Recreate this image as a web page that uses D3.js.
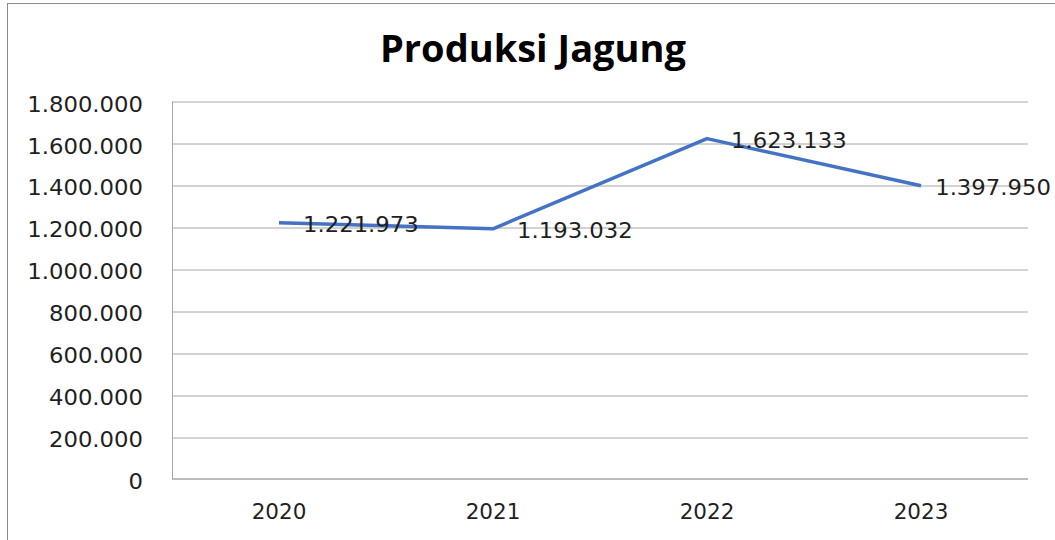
<!DOCTYPE html>
<html>
<head>
<meta charset="utf-8">
<script src="https://cdn.jsdelivr.net/npm/d3@7"></script>
<style>
  body { margin: 0; background: #fff; }
  svg { display: block; }
  .tick-label { font-family: "DejaVu Sans", Verdana, sans-serif; font-size: 20.5px; fill: #1f1f1f; }
  .year-label { font-family: "DejaVu Sans", sans-serif; font-size: 21.5px; fill: #1f1f1f; }
  .data-label { font-family: "DejaVu Sans", Verdana, sans-serif; font-size: 20.5px; fill: #1f1f1f; }
</style>
</head>
<body>
<div id="chart"></div>
<script>
// data
var years = ["2020", "2021", "2022", "2023"]
var produksi = [1221973, 1193032, 1623133, 1397950]
var yTicks = [0, 200000, 400000, 600000, 800000, 1000000, 1200000, 1400000, 1600000, 1800000]
var title = "Produksi Jagung"

const W = 1055, H = 540
const margin = {top: 101.5, right: 27, bottom: 61, left: 172}
const width = W - margin.left - margin.right,
      height = H - margin.top - margin.bottom
const stretch = 1.11

// number format like 1.800.000
var fmt = d3.formatLocale({decimal: ",", thousands: ".", grouping: [3], currency: ["", ""]}).format(",d")

var svg = d3.select("#chart")
  .append("svg")
  .attr("width", W)
  .attr("height", H)

// chart border
svg.append("rect")
  .attr("x", 7.5).attr("y", 3.5)
  .attr("width", W + 20).attr("height", H + 20)
  .attr("fill", "none")
  .attr("stroke", "#8c8c8c")
  .attr("stroke-width", 1)

// title
svg.append("text")
  .attr("x", 533)
  .attr("y", 62)
  .attr("text-anchor", "middle")
  .style("font-family", "'Open Sans', sans-serif")
  .style("font-weight", "bold")
  .style("font-size", "38px")
  .style("fill", "#000")
  .text(title)

var g = svg.append("g")
  .attr("transform", "translate(" + margin.left + "," + margin.top + ")")

var x = d3.scaleBand()
  .domain(years)
  .range([0, width])

var y = d3.scaleLinear()
  .domain([0, 1800000])
  .range([height, 0])

// gridlines
g.append("g")
  .selectAll("line")
  .data(yTicks.filter(d => d > 0))
  .enter()
  .append("line")
  .attr("x1", 0).attr("x2", width)
  .attr("y1", d => Math.round(y(d)) + 0.5)
  .attr("y2", d => Math.round(y(d)) + 0.5)
  .attr("stroke", "#a6a6a6")
  .attr("stroke-width", 1)

// left axis line + bottom axis line
g.append("line")
  .attr("x1", 0.5).attr("x2", 0.5)
  .attr("y1", 0).attr("y2", height)
  .attr("stroke", "#a6a6a6")
g.append("line")
  .attr("x1", 0).attr("x2", width)
  .attr("y1", height).attr("y2", height)
  .attr("stroke", "#a6a6a6")
  .attr("stroke-width", 1.5)

// y tick labels (stretched a bit horizontally like the original)
g.append("g")
  .selectAll("text")
  .data(yTicks)
  .enter()
  .append("text")
  .attr("class", "tick-label")
  .attr("transform", d => "translate(-29," + (y(d) + 3) + ") scale(" + stretch + ",1)")
  .attr("text-anchor", "end")
  .attr("dominant-baseline", "central")
  .text(d => fmt(d))

// x labels
g.append("g")
  .selectAll("text")
  .data(years)
  .enter()
  .append("text")
  .attr("class", "year-label")
  .attr("x", d => x(d) + x.bandwidth() / 2)
  .attr("y", height + 32)
  .attr("text-anchor", "middle")
  .attr("dominant-baseline", "central")
  .text(d => d)

// line
var pts = years.map((yr, i) => ({year: yr, value: produksi[i]}))

g.append("path")
  .datum(pts)
  .attr("fill", "none")
  .attr("stroke", "#4472c4")
  .attr("stroke-width", 3.5)
  .attr("stroke-linejoin", "round")
  .attr("d", d3.line()
    .x(d => x(d.year) + x.bandwidth() / 2)
    .y(d => y(d.value)))

// data labels, to the right of each point, kept inside the chart
var labels = g.append("g")
  .selectAll("text")
  .data(pts)
  .enter()
  .append("text")
  .attr("class", "data-label")
  .attr("dominant-baseline", "central")
  .text(d => fmt(d.value))

labels.each(function(d) {
  var t = d3.select(this)
  var w = this.getComputedTextLength() * stretch
  var px = x(d.year) + x.bandwidth() / 2 + 24
  var maxX = W - margin.left - 4 - w
  px = Math.min(px, maxX)
  t.attr("transform", "translate(" + px + "," + (y(d.value) + 2) + ") scale(" + stretch + ",1)")
})
</script>
</body>
</html>
